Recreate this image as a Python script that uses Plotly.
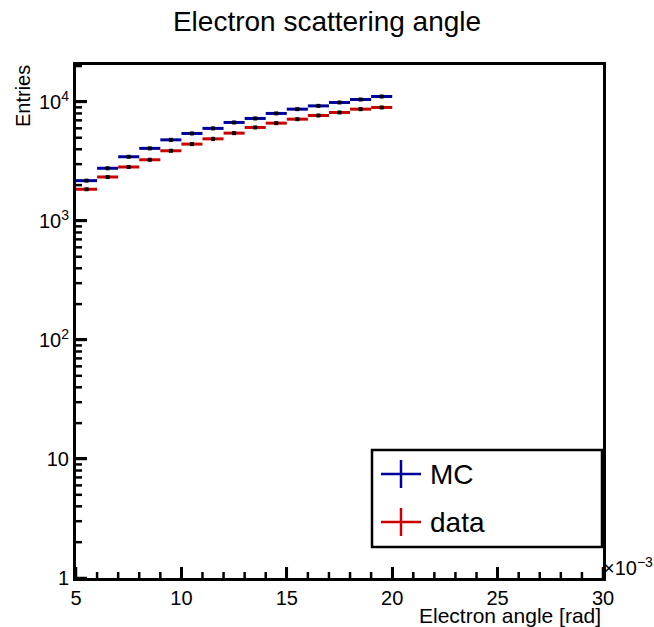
import math
import numpy as np
import plotly.graph_objects as go

# bin centres in units of 1e-3 rad
bin_centers = [5.5, 6.5, 7.5, 8.5, 9.5, 10.5, 11.5, 12.5, 13.5, 14.5, 15.5, 16.5, 17.5, 18.5, 19.5]
bin_half_width = 0.5
mc_counts = [2180, 2770, 3460, 4070, 4800, 5430, 5990, 6720, 7260, 8000, 8690, 9260, 9890, 10470, 11100]
data_counts = [1845, 2340, 2840, 3265, 3885, 4420, 4895, 5465, 6100, 6630, 7160, 7690, 8150, 8690, 8980]
X_MIN, X_MAX = 5, 30
x_major_ticks = [5, 10, 15, 20, 25, 30]
x_minor_ticks = [v for v in range(5, 31) if v % 5 != 0]
y_tick_vals = [1, 10, 100, 1000, 10000]
y_tick_text = ["1", "10", "10<sup>2</sup>", "10<sup>3</sup>", "10<sup>4</sup>"]
Y_LOG_MAX = 4.31
y_minor_ticks = [m * 10 ** k for k in range(0, 5) for m in range(2, 10) if m * 10 ** k < 10 ** Y_LOG_MAX]

MC_COLOR = "#00009c"
DATA_COLOR = "#cc0000"
FONT = "Liberation Sans, Arial, Helvetica, sans-serif"

fig = go.Figure()
for name, vals, col in [("MC", mc_counts, MC_COLOR), ("data", data_counts, DATA_COLOR)]:
    fig.add_trace(go.Scatter(
        x=bin_centers, y=vals, mode="markers", name=name, showlegend=False,
        marker=dict(symbol="square", size=4, color="black"),
        error_x=dict(type="constant", value=bin_half_width, color=col, thickness=3, width=0),
        error_y=dict(type="data", array=list(np.sqrt(vals)), color=col, thickness=2, width=0),
    ))

PLOT_W, PLOT_H = 527, 513

fig.update_layout(
    width=654, height=627,
    margin=dict(l=76, r=51, t=65, b=49),
    paper_bgcolor="white", plot_bgcolor="white",
    font=dict(family=FONT, color="black", size=20),
    title=dict(text="Electron scattering angle", x=0.5, xanchor="center", y=1 - 21 / 627, yanchor="middle",
               font=dict(size=28, family=FONT)),
    xaxis=dict(range=[X_MIN, X_MAX], tickmode="array", tickvals=x_major_ticks, ticks="inside",
               ticklen=11, tickwidth=2.5, tickcolor="#000000",
               showline=True, linewidth=3, linecolor="black", mirror=True,
               showgrid=False, zeroline=False, tickfont=dict(size=20)),
    yaxis=dict(type="log", range=[0, Y_LOG_MAX], tickmode="array", tickvals=y_tick_vals, ticktext=y_tick_text,
               ticks="inside", ticklen=11, tickwidth=2.5, tickcolor="#000000",
               showline=True, linewidth=3, linecolor="black", mirror=True,
               showgrid=False, zeroline=False, tickfont=dict(size=20)),
)

# inside tick marks (ROOT style), placed in plot-area fractions derived from the tick values
for v in x_major_ticks + x_minor_ticks:
    ln = 11 if v in x_major_ticks else 6
    xf = (v - X_MIN) / (X_MAX - X_MIN)
    fig.add_shape(type="line", xref="paper", yref="paper", x0=xf, x1=xf, y0=0, y1=ln / PLOT_H,
                  line=dict(color="#000000", width=2.5), layer="above")
for v in y_tick_vals + y_minor_ticks:
    ln = 11 if v in y_tick_vals else 6
    yf = math.log10(v) / Y_LOG_MAX
    fig.add_shape(type="line", xref="paper", yref="paper", x0=0, x1=ln / PLOT_W, y0=yf, y1=yf,
                  line=dict(color="#000000", width=2.5), layer="above")

# axis titles (ROOT style)
fig.add_annotation(text="Entries", xref="paper", yref="paper", x=-53 / PLOT_W, y=1.0 + 2 / PLOT_H, xanchor="center",
                   yanchor="top", textangle=-90, showarrow=False, font=dict(size=20))
fig.add_annotation(text="Electron angle [rad]", xref="paper", yref="paper", x=1.0, y=-37 / PLOT_H,
                   xanchor="right", yanchor="middle", showarrow=False, font=dict(size=21))
fig.add_annotation(text="×10<sup>−3</sup>", xref="paper", yref="paper", x=1.0 - 2 / PLOT_W, y=12 / PLOT_H,
                   xanchor="left", yanchor="middle", showarrow=False, font=dict(size=20))

# legend box (ROOT TLegend style)
def px(xp):
    return (xp - 76) / PLOT_W

def py(yp):
    return (578 - yp) / PLOT_H

fig.add_shape(type="rect", xref="paper", yref="paper", x0=px(372), x1=px(602), y0=py(547), y1=py(450),
              line=dict(color="black", width=2.5), fillcolor="white", layer="above")
for label, col, yc in [("MC", MC_COLOR, 474), ("data", DATA_COLOR, 522)]:
    fig.add_shape(type="line", xref="paper", yref="paper", x0=px(381), x1=px(421), y0=py(yc), y1=py(yc),
                  line=dict(color=col, width=2.5), layer="above")
    fig.add_shape(type="line", xref="paper", yref="paper", x0=px(401), x1=px(401), y0=py(yc - 14), y1=py(yc + 14),
                  line=dict(color=col, width=2.5), layer="above")
    fig.add_annotation(text=label, xref="paper", yref="paper", x=px(428), y=py(yc), xanchor="left",
                       yanchor="middle", showarrow=False, font=dict(size=28))

fig.write_html("out.html")
